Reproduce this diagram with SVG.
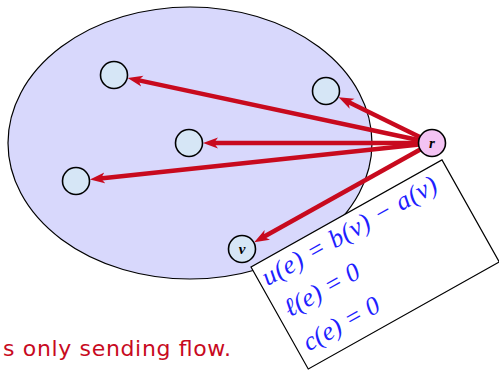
<svg xmlns="http://www.w3.org/2000/svg" width="499" height="370" viewBox="0 0 499 370">
<style>
.node{fill:#d6e6f6;stroke:#000;stroke-width:1.6}
.arr{stroke:#c80a1e;stroke-width:4.5;fill:none;marker-end:url(#ah)}
.lbl{font-family:"Liberation Serif",serif;font-style:italic;font-weight:bold;font-size:15px;text-anchor:middle}
.math{font-family:"Liberation Serif",serif;font-style:italic;font-size:26px;fill:#1f1fff}
</style>
<defs>
<marker id="ah" markerUnits="userSpaceOnUse" markerWidth="16" markerHeight="12" viewBox="0 0 16 12" refX="7" refY="6" orient="auto">
<path d="M0,0.5 L15,6 L0,11.5 L4,6 z" fill="#c80a1e"/>
</marker>
</defs>
<g id="region">
<ellipse cx="190" cy="143" rx="182" ry="136" fill="#d8d8fc" stroke="#000" stroke-width="1.2"/>
</g>
<g id="connectors">
<line class="arr" x1="419.3" y1="140.3" x2="135.5" y2="79.6"/>
<line class="arr" x1="419" y1="143" x2="211" y2="143"/>
<line class="arr" x1="419.1" y1="144.4" x2="97.9" y2="178.7"/>
<line class="arr" x1="420.3" y1="137.3" x2="345.8" y2="100.7"/>
<line class="arr" x1="420.7" y1="149.3" x2="261.2" y2="238.3"/>
</g>
<g id="n1"><circle class="node" cx="114" cy="75" r="13.5"/></g>
<g id="n2"><circle class="node" cx="189" cy="143" r="13.5"/></g>
<g id="n3"><circle class="node" cx="76" cy="181" r="13.5"/></g>
<g id="n4"><circle class="node" cx="326" cy="91" r="13.5"/></g>
<g id="v"><circle class="node" cx="242" cy="249" r="13.5"/><text class="lbl" x="242" y="254">v</text></g>
<g id="r"><circle cx="432" cy="143" r="13.5" fill="#f3c3f3" stroke="#000" stroke-width="1.6"/><text class="lbl" x="432" y="148">r</text></g>
<g id="box" transform="translate(251,267) rotate(-29.3)">
<rect x="0" y="0" width="219" height="117" fill="#fff" stroke="#000" stroke-width="1.2"/>
<text class="math" x="5" y="25" textLength="197" lengthAdjust="spacing">u(e) = b(v) − a(v)</text>
<text class="math" x="9" y="63" textLength="83" lengthAdjust="spacing">ℓ(e) = 0</text>
<text class="math" x="9" y="102" textLength="84" lengthAdjust="spacing">c(e) = 0</text>
</g>
<text x="3" y="356" font-family="DejaVu Sans, sans-serif" font-size="22" fill="#c80a1e" textLength="228" lengthAdjust="spacing">s only sending flow.</text>
</svg>
